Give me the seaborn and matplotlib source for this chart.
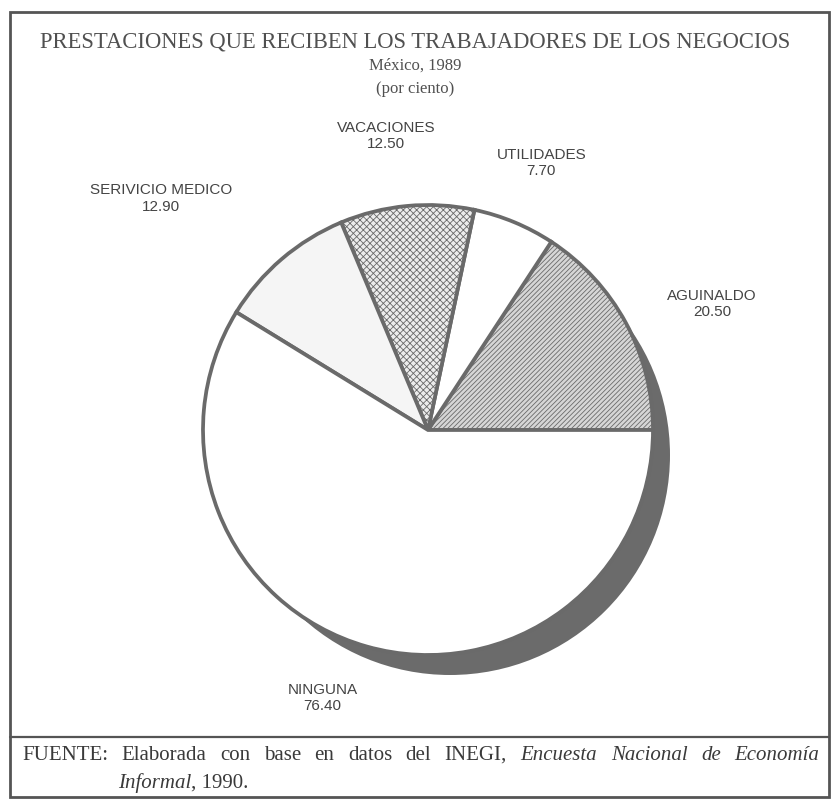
import numpy as np
import matplotlib
matplotlib.use("Agg")
import matplotlib.pyplot as plt
import seaborn as sns
from matplotlib.patches import Circle, Rectangle
from matplotlib.lines import Line2D

sns.set_theme(style="white")
plt.rcParams['font.family'] = ['Liberation Sans', 'DejaVu Sans']
plt.rcParams['hatch.linewidth'] = 0.6

# Datos (por ciento)
categorias = ['AGUINALDO', 'UTILIDADES', 'VACACIONES', 'SERIVICIO MEDICO', 'NINGUNA']
valores = [20.50, 7.70, 12.50, 12.90, 76.40]

titulo = 'PRESTACIONES QUE RECIBEN LOS TRABAJADORES DE LOS NEGOCIOS'
subtitulo = 'México, 1989'
unidad = '(por ciento)'
fuente_normal = 'FUENTE: Elaborada con base en datos del INEGI,'
fuente_cursiva = 'Encuesta Nacional de Economía'
fuente_cursiva2 = 'Informal'
fuente_fin = ', 1990.'

# estilos de cada sector
rellenos = ['#d6d6d6', 'white', '#ececec', '#f5f5f5', 'white']
tramas = ['///////', None, 'xxxxx', None, None]
# posicion de las etiquetas: desplazamiento angular y distancia
giro_etq = [-4.5, -0.4, 2.7, 8.5, -5.7]
dist_etq = [1.38, 1.29, 1.32, 1.57, 1.28]

W, H = 834, 799
fig = plt.figure(figsize=(W / 100, H / 100), dpi=100)
fig.patch.set_facecolor('white')

# eje del pastel: centro (428, 430) px, radio 225 px
cx, cy, R, half = 428, 430, 225, 290
ax = fig.add_axes([(cx - half) / W, 1 - (cy + half) / H, 2 * half / W, 2 * half / H])

# sombra (efecto 3D)
ax.add_patch(Circle((22 / R, -25 / R), 1 - 5 / R, facecolor='#6b6b6b',
                    edgecolor='none', zorder=0))

wedges, _ = ax.pie(valores, startangle=0, counterclock=True, radius=1,
                   colors=rellenos,
                   wedgeprops=dict(edgecolor='#6a6a6a', linewidth=2.7))
for w, h in zip(wedges, tramas):
    w.set_zorder(2)
    if h:
        w.set_hatch(h)
ax.set_xlim(-half / R, half / R)
ax.set_ylim(-half / R, half / R)
ax.set_aspect('equal')
ax.axis('off')

for w, nom, val, g, d in zip(wedges, categorias, valores, giro_etq, dist_etq):
    ang = np.deg2rad((w.theta1 + w.theta2) / 2 + g)
    ax.text(d * np.cos(ang), d * np.sin(ang), f'{nom}\n{val:.2f}',
            ha='center', va='center', fontsize=11, color='#444444',
            linespacing=1.2)

# titulos
serif = ['Liberation Serif', 'DejaVu Serif']
gris = '#505050'
fig.text(415 / W, 1 - 42 / H, titulo, ha='center', va='center',
         fontsize=16.3, family=serif, color=gris)
fig.text(415 / W, 1 - 66 / H, subtitulo, ha='center', va='center',
         fontsize=12, family=serif, color=gris)
fig.text(415 / W, 1 - 89 / H, unidad, ha='center', va='center',
         fontsize=12, family=serif, color=gris)

# fuente, primera linea justificada palabra por palabra
palabras = [(p, 'normal') for p in fuente_normal.split()] + \
           [(p, 'italic') for p in fuente_cursiva.split()]
x0, x1, yl = 22, 819, 755
piezas = [fig.text(0, 1 - yl / H, p, ha='left', va='center', fontsize=15,
                   family=serif, style=s, color='#3a3a3a') for p, s in palabras]
fig.canvas.draw()
rend = fig.canvas.get_renderer()
anchos = [t.get_window_extent(rend).width for t in piezas]
hueco = (x1 - x0 - sum(anchos)) / (len(piezas) - 1)
x = x0
for t, a in zip(piezas, anchos):
    t.set_x(x / W)
    x += a + hueco

t2 = fig.text(118 / W, 1 - 783 / H, fuente_cursiva2, ha='left', va='center',
              fontsize=15, family=serif, style='italic', color='#3a3a3a')
fig.add_artist(plt.Annotation(fuente_fin, xy=(1, 0), xycoords=t2, va='bottom',
                              ha='left', fontsize=15, family=serif,
                              color='#3a3a3a'))

# marco
fig.add_artist(Rectangle((10 / W, 1 - 797 / H), (829 - 10) / W, (797 - 12) / H,
                         transform=fig.transFigure, fill=False,
                         edgecolor='#555555', linewidth=2))
fig.add_artist(Line2D([10 / W, 829 / W], [1 - 737 / H, 1 - 737 / H],
                      transform=fig.transFigure, color='#555555', linewidth=1.6))

fig.savefig('out.png', dpi=100)
